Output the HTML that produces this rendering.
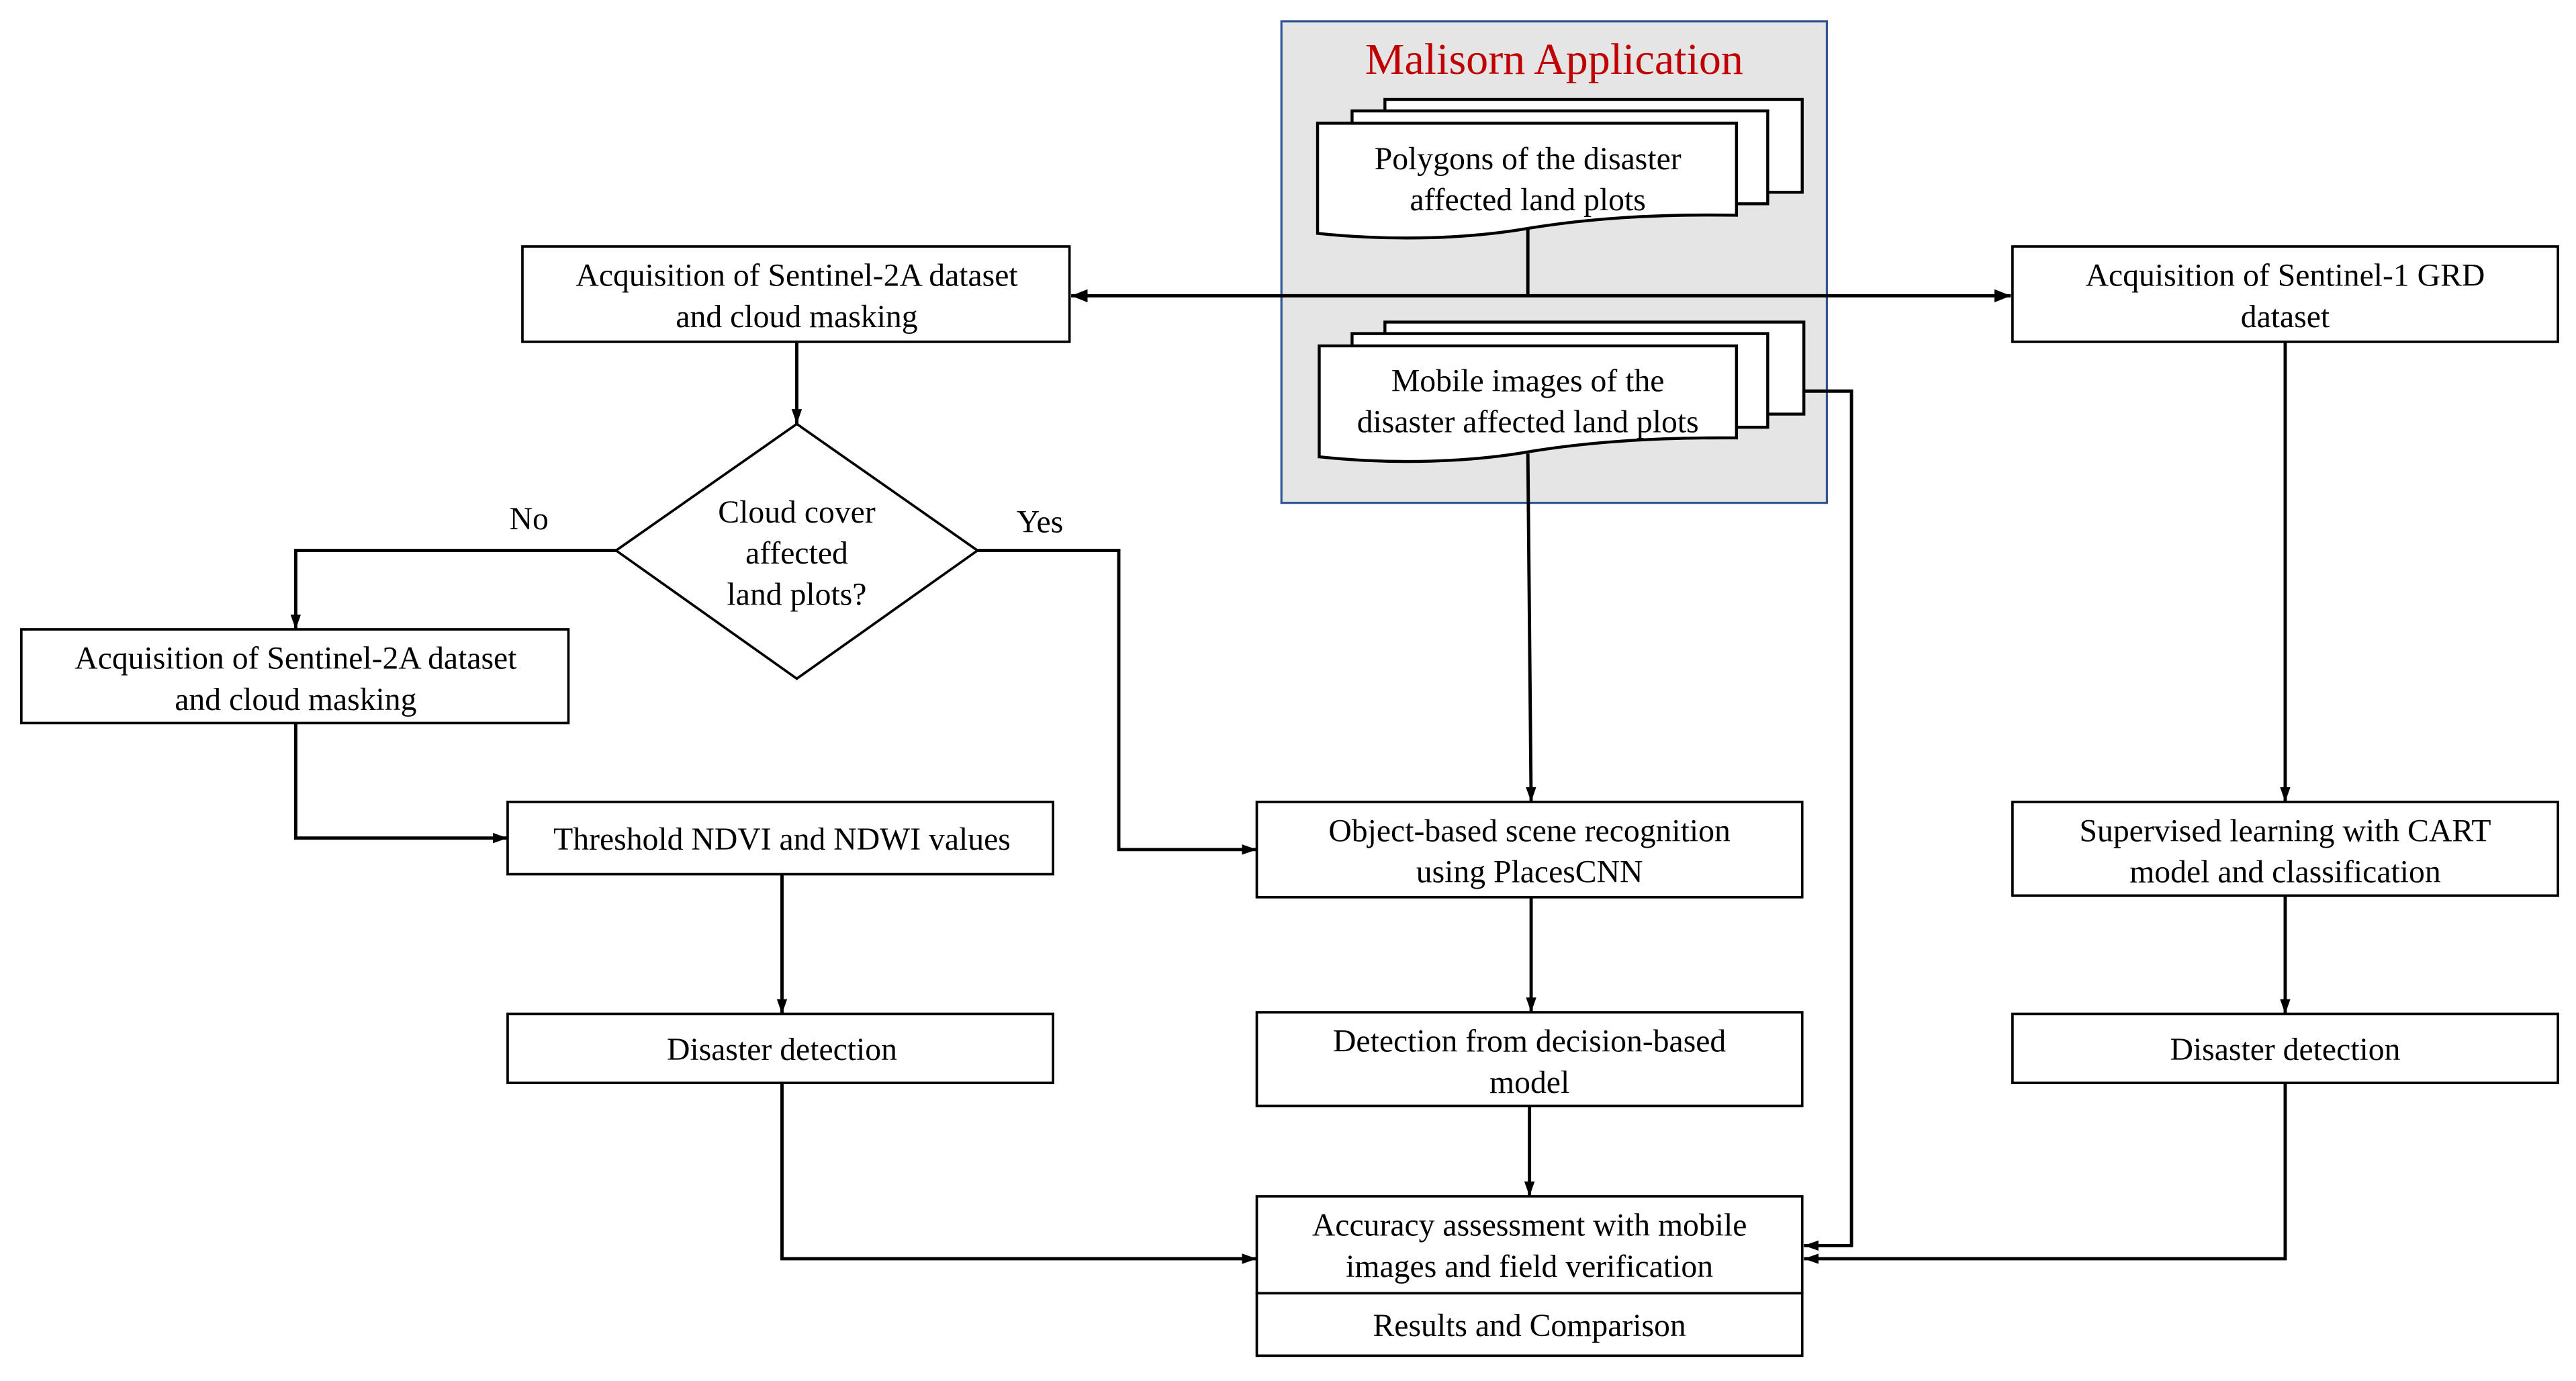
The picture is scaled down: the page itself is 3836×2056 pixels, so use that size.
<!DOCTYPE html>
<html><head><meta charset="utf-8"><style>
html,body{margin:0;padding:0;background:#fff;}
svg{display:block;}
svg text{font-family:"Liberation Serif","Noto Serif CJK SC","DejaVu Serif",serif;font-size:19.5px;fill:#000;text-anchor:middle;}
</style></head><body>
<svg width="3836" height="2056" viewBox="0 0 1568 840.4" preserveAspectRatio="none" xmlns="http://www.w3.org/2000/svg">
<defs>
<marker id="a" viewBox="0 0 10 10" refX="10" refY="5" markerWidth="9" markerHeight="9" orient="auto-start-reverse" markerUnits="userSpaceOnUse">
<path d="M0,1.5 L10,5 L0,8.5 z" fill="#000"/></marker>
<marker id="b" viewBox="0 0 10 10" refX="10" refY="5" markerWidth="10" markerHeight="10" orient="auto-start-reverse" markerUnits="userSpaceOnUse">
<path d="M0,1 L10,5 L0,9 z" fill="#000"/></marker>
</defs>
<rect width="1568" height="840.4" fill="#fff"/>
<rect x="780" y="13" width="332" height="293" fill="#e5e5e5" stroke="#2f5597" stroke-width="1.3"/>
<text x="946" y="45" style="font-size:27px;fill:#c00000">Malisorn Application</text>
<g fill="#fff" stroke="#000" stroke-width="1.8">
<rect x="843" y="60.5" width="254" height="56.5"/>
<rect x="823" y="67.5" width="253" height="56.5"/>
<path d="M802,75 H1057 V131 C1000,130 960,134 930,139 C895,145 850,147 802,142 Z"/>
<rect x="843" y="196" width="255" height="56"/>
<rect x="823" y="203" width="253" height="57"/>
<path d="M803,210.5 H1057 V266.5 C1000,266 960,270 930,275 C895,281 850,283 803,278 Z"/>
</g>
<text x="930" y="103">Polygons of the disaster</text>
<text x="930" y="128">affected land plots</text>
<text x="930" y="238">Mobile images of the</text>
<text x="930" y="263">disaster affected land plots</text>
<g fill="none" stroke="#000" stroke-width="2">
<line x1="930" y1="139" x2="930" y2="180"/>
<line x1="652" y1="180" x2="1224" y2="180" marker-start="url(#b)" marker-end="url(#b)"/>
<line x1="930" y1="276" x2="932" y2="488" marker-end="url(#a)"/>
<polyline points="1098,238 1127,238 1127,758 1098,758" marker-end="url(#a)"/>
<line x1="485" y1="208" x2="485" y2="258" marker-end="url(#a)"/>
<polyline points="375,335 180,335 180,383" marker-end="url(#a)"/>
<polyline points="180,440 180,510 309,510" marker-end="url(#a)"/>
<line x1="476" y1="532" x2="476" y2="617" marker-end="url(#a)"/>
<polyline points="476,659 476,766 765,766" marker-end="url(#a)"/>
<polyline points="595,335 681,335 681,517 765,517" marker-end="url(#a)"/>
<line x1="932" y1="546" x2="932" y2="616" marker-end="url(#a)"/>
<line x1="931" y1="673" x2="931" y2="728" marker-end="url(#a)"/>
<line x1="1391" y1="208" x2="1391" y2="488" marker-end="url(#a)"/>
<line x1="1391" y1="545" x2="1391" y2="617" marker-end="url(#a)"/>
<polyline points="1391,659 1391,766 1098,766" marker-end="url(#a)"/>
</g>
<g fill="#fff" stroke="#000" stroke-width="1.5">
<rect x="318" y="150" width="333" height="58"/>
<rect x="1225" y="150" width="332" height="58"/>
<polygon points="485,258 595,335 485,413 375,335"/>
<rect x="13" y="383" width="333" height="57"/>
<rect x="309" y="488" width="332" height="44"/>
<rect x="309" y="617" width="332" height="42"/>
<rect x="765" y="488" width="332" height="58"/>
<rect x="765" y="616" width="332" height="57"/>
<rect x="765" y="728" width="332" height="59"/>
<rect x="765" y="787" width="332" height="38"/>
<rect x="1225" y="488" width="332" height="57"/>
<rect x="1225" y="617" width="332" height="42"/>
</g>
<text x="485" y="174">Acquisition of Sentinel-2A dataset</text>
<text x="485" y="199">and cloud masking</text>
<text x="1391" y="174">Acquisition of Sentinel-1 GRD</text>
<text x="1391" y="199">dataset</text>
<text x="485" y="318">Cloud cover</text>
<text x="485" y="343">affected</text>
<text x="485" y="368">land plots?</text>
<text x="322" y="322">No</text>
<text x="633" y="324">Yes</text>
<text x="180" y="407">Acquisition of Sentinel-2A dataset</text>
<text x="180" y="432">and cloud masking</text>
<text x="476" y="517">Threshold NDVI and NDWI values</text>
<text x="476" y="645">Disaster detection</text>
<text x="931" y="512">Object-based scene recognition</text>
<text x="931" y="537">using PlacesCNN</text>
<text x="931" y="640">Detection from decision-based</text>
<text x="931" y="665">model</text>
<text x="931" y="752">Accuracy assessment with mobile</text>
<text x="931" y="777">images and field verification</text>
<text x="931" y="813">Results and Comparison</text>
<text x="1391" y="512">Supervised learning with CART</text>
<text x="1391" y="537">model and classification</text>
<text x="1391" y="645">Disaster detection</text>
</svg>
</body></html>
